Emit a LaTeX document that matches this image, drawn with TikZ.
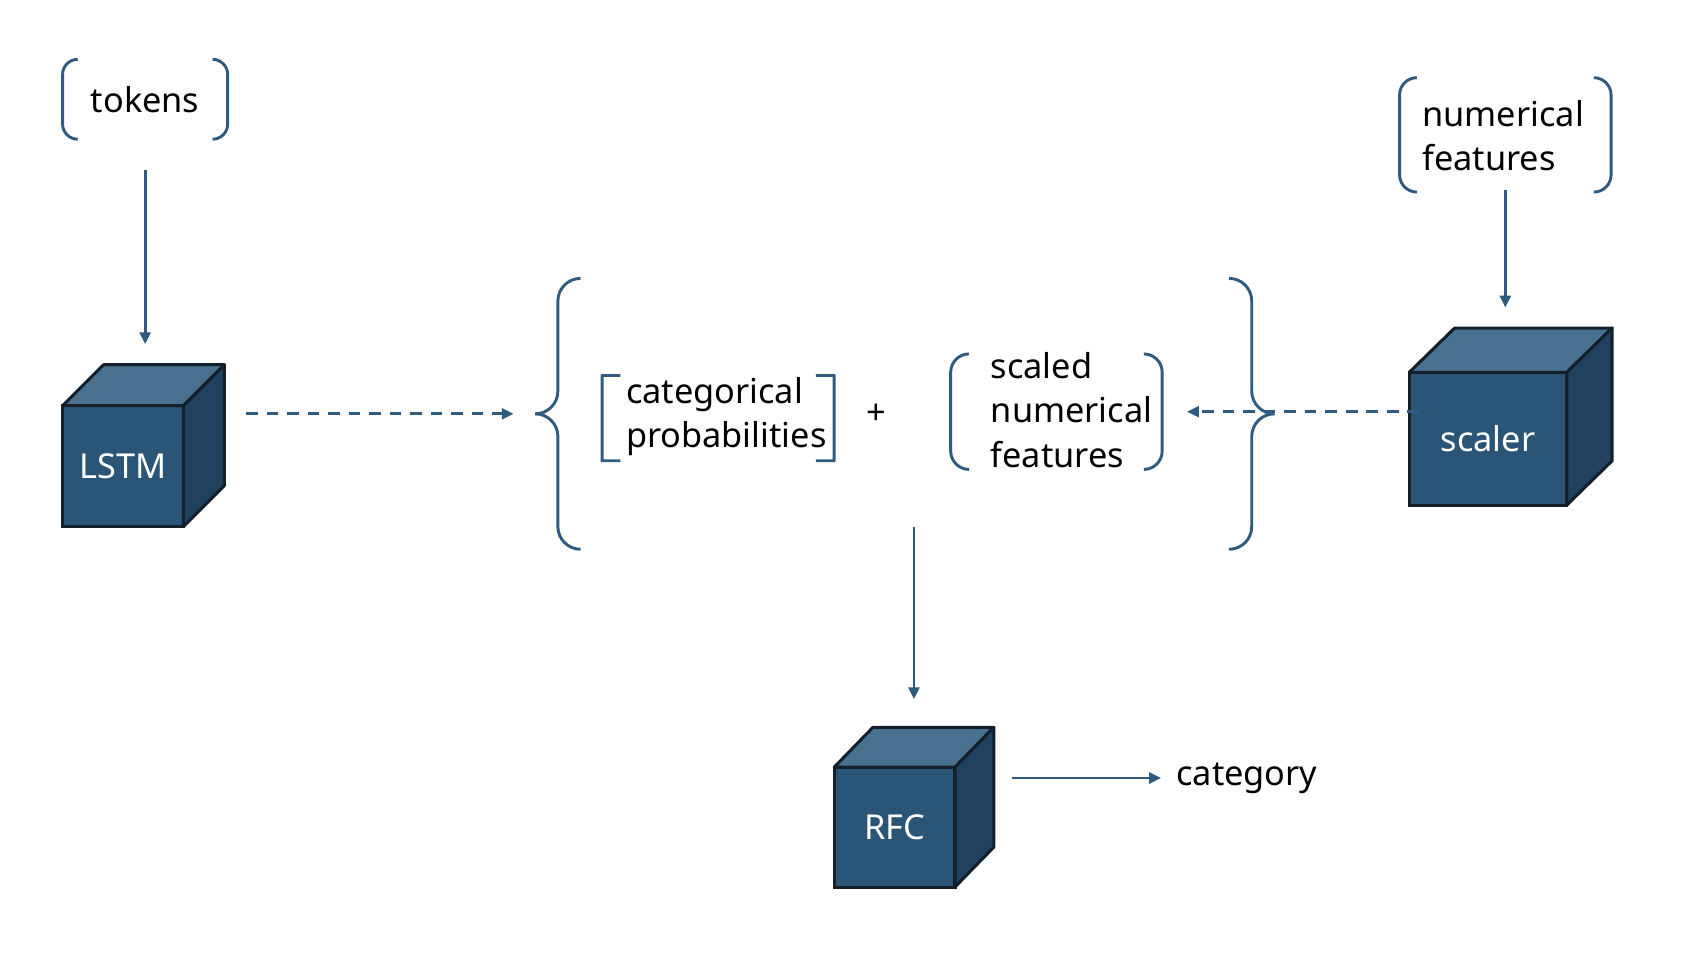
\documentclass[tikz,border=0pt]{standalone}
\usepackage{fontspec}
\setmainfont{Noto Sans}
\usetikzlibrary{arrows.meta}
\definecolor{ln}{HTML}{2F5B80}
\definecolor{cfront}{HTML}{2A5577}
\definecolor{ctop}{HTML}{48718F}
\definecolor{cside}{HTML}{21415E}
\definecolor{cedge}{HTML}{13202C}
\newcommand\cubeparts[3]{%
  \filldraw[fill=ctop, draw=cedge, line width=2.8pt, line join=round]
    (#1.north west) -- ++(#2,-#3) -- ([shift={(#2,-#3)}]#1.north east) -- (#1.north east) -- cycle;
  \filldraw[fill=cside, draw=cedge, line width=2.8pt, line join=round]
    (#1.north east) -- ++(#2,-#3) -- ([shift={(#2,-#3)}]#1.south east) -- (#1.south east) -- cycle;}
\newcommand\roundbr[3]{%
  \draw[lnst, rounded corners=#3] ([xshift=#2]#1.north west) -- (#1.north west) -- (#1.south west) -- ([xshift=#2]#1.south west);
  \draw[lnst, rounded corners=#3] ([xshift=-#2]#1.north east) -- (#1.north east) -- (#1.south east) -- ([xshift=-#2]#1.south east);}
\begin{document}
\begin{tikzpicture}[x=1pt,y=-1pt,
  every node/.style={font=\fontsize{31.8}{41}\selectfont},
  lnst/.style={draw=ln, line width=2.7pt},
  arr/.style={lnst, -{Triangle[length=11pt,width=10pt]}},
  dasharr/.style={arr, dash pattern=on 11pt off 8pt},
  brbox/.style={inner sep=0pt, outer sep=0pt},
  txt/.style={inner sep=0pt, align=left, anchor=west, text=black},
  front/.style={fill=cfront, draw=cedge, line width=2.8pt, inner sep=0pt, outer sep=0pt, text=white},
]
\useasboundingbox (0,0) rectangle (1568,893.4);

% cubes
\node[front, minimum width=112pt, minimum height=112pt] (lstm) at (114,432) {LSTM};
\cubeparts{lstm}{38}{38}
\node[front, minimum width=146pt, minimum height=123pt] (scaler) at (1379,406.5) {scaler};
\cubeparts{scaler}{42}{41}
\node[front, minimum width=112pt, minimum height=111pt] (rfc) at (829,766.5) {RFC};
\cubeparts{rfc}{36}{37}
\coordinate (rfctop) at (847,674);

% bracketed texts
\node[brbox, minimum width=153pt, minimum height=74pt] (tokens) at (134.5,92) {tokens};
\roundbr{tokens}{14pt}{14pt}
\node[brbox, minimum width=196pt, minimum height=106pt] (nf) at (1395,125) {};
\roundbr{nf}{16pt}{16pt}
\node[txt] (nftxt) at (1318,126) {numerical\\features};
\node[brbox, minimum width=215pt, minimum height=79pt] (cp) at (665.5,387.5) {};
\roundbr{cp}{17pt}{0.1pt}
\node[txt] (cptxt) at (580,386) {categorical\\probabilities};
\node[brbox, minimum width=196pt, minimum height=107pt] (sn) at (979,381.5) {};
\roundbr{sn}{17pt}{17pt}
\node[txt] (sntxt) at (918,380) {scaled\\numerical\\features};
\node[inner sep=0pt] (plus) at (812,384) {+};
\node[txt] (cat) at (1090,721) {category};

% big braces
\node[brbox, minimum width=643pt, minimum height=251pt] (grp) at (838.5,383.5) {};
\draw[lnst, rounded corners=21pt] ([xshift=21pt]grp.north west) -- (grp.north west) -- (grp.west) -- ([xshift=-21pt]grp.west);
\draw[lnst, rounded corners=21pt] ([xshift=-21pt]grp.west) -- (grp.west) -- (grp.south west) -- ([xshift=21pt]grp.south west);
\draw[lnst, rounded corners=21pt] ([xshift=-21pt]grp.north east) -- (grp.north east) -- (grp.east) -- ([xshift=21pt]grp.east);
\draw[lnst, rounded corners=21pt] ([xshift=21pt]grp.east) -- (grp.east) -- (grp.south east) -- ([xshift=-21pt]grp.south east);

% connectors
\draw[arr, shorten <=29pt, shorten >=57pt] (tokens.south) -- (tokens.south |- lstm.north);
\draw[dasharr, shorten <=58pt, shorten >=20pt] (lstm.east |- grp.west) -- ([xshift=-21pt]grp.west);
\draw[arr, shorten <=-2pt, shorten >=60pt] (nf.south) -- (nf.south |- scaler.north);
\draw[dasharr, shorten <=-9pt, shorten >=23pt] (scaler.west |- sn.east) -- (sn.east);
\draw[arr, shorten <=-21pt, shorten >=26pt] (grp.south -| rfctop) -- (rfctop);
\draw[arr, shorten <=53pt, shorten >=14pt] (rfc.east |- cat.west) -- (cat.west);
\end{tikzpicture}
\end{document}
